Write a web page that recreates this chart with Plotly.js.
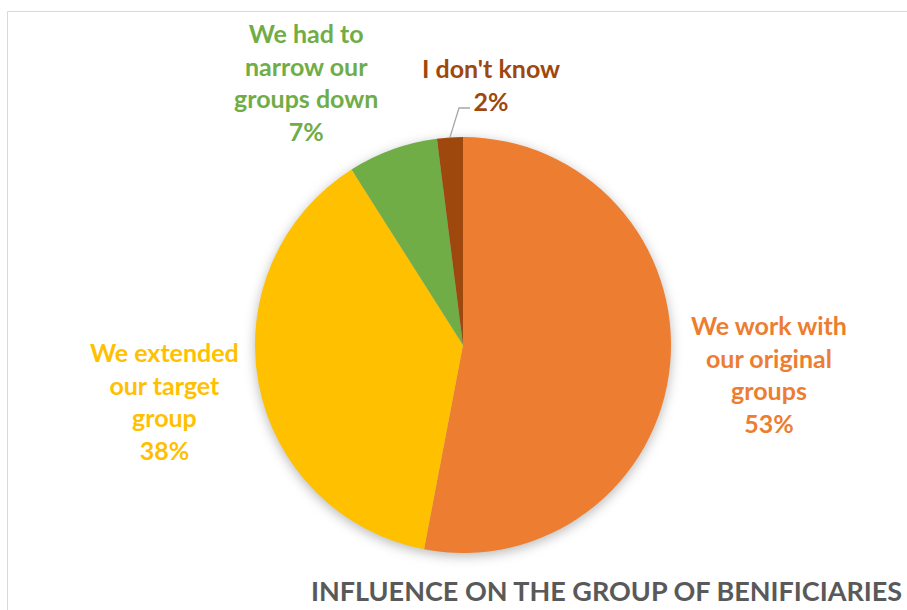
<!DOCTYPE html>
<html>
<head>
<meta charset="utf-8">
<script src="https://cdn.plot.ly/plotly-3.0.1.min.js"></script>
<style>
  html, body { margin: 0; padding: 0; background: #fff; }
  #chart { width: 907px; height: 610px; }
  .pielayer { filter: drop-shadow(0px 3px 6px rgba(0,0,0,0.28)); }
</style>
</head>
<body>
<div id="chart"></div>
<script>
// ---- data ----
const categories = [
  "We work with our original groups",
  "We extended our target group",
  "We had to narrow our groups down",
  "I don't know"
];
const labelLines = [
  ["We work with", "our original", "groups"],
  ["We extended", "our target", "group"],
  ["We had to", "narrow our", "groups down"],
  ["I don't know"]
];
const values = [53, 38, 7, 2];
const colors = ["#ED7D31", "#FFC000", "#70AD47", "#9E480E"];
const chartTitle = "INFLUENCE ON THE GROUP OF BENIFICIARIES";

// ---- layout config (pixels) ----
const W = 907, H = 610;
const cx = 463, cy = 345, R = 208;
const labelPos = [ [769, 374], [164, 401], [306, 82], [491, 84] ];
const leaderBend = [459, 108], leaderEnd = [470, 108];
const px = x => x / W;
const py = y => 1 - y / H;

const total = values.reduce((a, b) => a + b, 0);
const pct = values.map(v => Math.round(v / total * 100));

const font = "Lato, 'Open Sans', sans-serif";

const annotations = categories.map((c, i) => ({
  text: labelLines[i].join("<br>") + "<br>" + pct[i] + "%",
  x: px(labelPos[i][0]), y: py(labelPos[i][1]),
  xref: "paper", yref: "paper",
  xanchor: "center", yanchor: "middle",
  showarrow: false, align: "center",
  font: { family: font, size: 25, color: colors[i], weight: "bold" }
}));
annotations.push({
  text: chartTitle,
  x: px(309), y: py(590), xref: "paper", yref: "paper",
  xanchor: "left", yanchor: "middle", showarrow: false,
  font: { family: font, size: 27, color: "#595959", weight: "bold" }
});

// leader line for the smallest slice, start at its mid-angle on the rim
let cum = 0; const mids = values.map(v => { const m = (cum + v / 2) / total * 2 * Math.PI; cum += v; return m; });
const li = 3;
const sx = cx + R * Math.sin(mids[li]), sy = cy - R * Math.cos(mids[li]);

const shapes = [
  { type: "rect", xref: "paper", yref: "paper", x0: px(7.5), y0: py(11.5), x1: px(940), y1: py(640),
    line: { color: "#D9D9D9", width: 1 }, fillcolor: "rgba(0,0,0,0)", layer: "below" },
  { type: "path", xref: "paper", yref: "paper",
    path: `M ${px(sx)} ${py(sy)} L ${px(leaderBend[0])} ${py(leaderBend[1])} L ${px(leaderEnd[0])} ${py(leaderEnd[1])}`,
    line: { color: "#A6A6A6", width: 1.3 } }
];

const trace = {
  type: "pie",
  labels: categories,
  values: values,
  sort: false,
  direction: "clockwise",
  rotation: 0,
  textinfo: "none",
  hoverinfo: "none",
  marker: { colors: colors, line: { width: 0 } },
  domain: { x: [px(cx - R), px(cx + R)], y: [py(cy + R), py(cy - R)] },
  showlegend: false
};

const layout = {
  width: W, height: H,
  margin: { l: 0, r: 0, t: 0, b: 0 },
  paper_bgcolor: "#ffffff",
  showlegend: false,
  annotations: annotations,
  shapes: shapes
};

Plotly.newPlot("chart", [trace], layout, { staticPlot: true, displayModeBar: false });
</script>
</body>
</html>
